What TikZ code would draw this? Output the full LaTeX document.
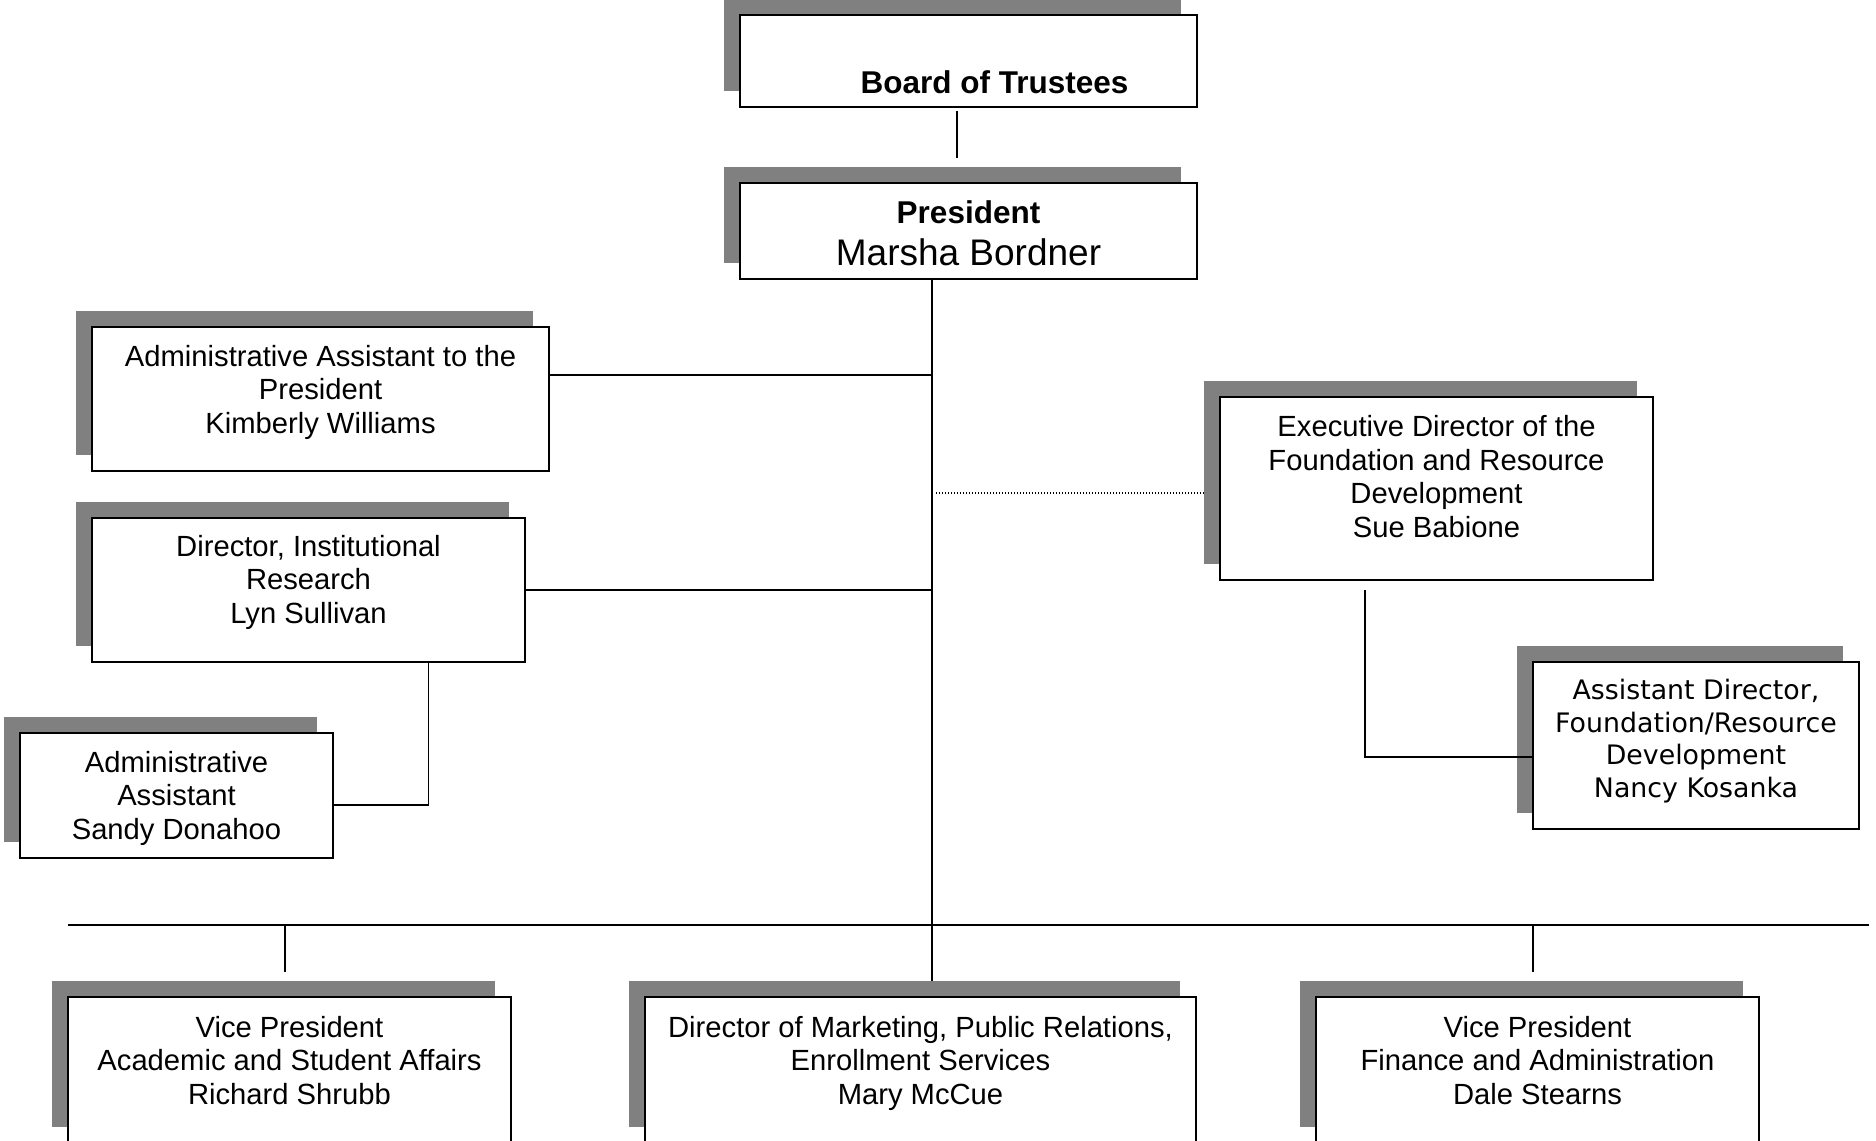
\documentclass[tikz,border=0pt]{standalone}
\usepackage{fontspec}
\setmainfont{Liberation Sans}
\newfontfamily\verafont{DejaVu Sans}
\usetikzlibrary{shadows}
\definecolor{shadegray}{RGB}{128,128,128}
\newcommand{\boxlines}[2][0pt]{\begin{tabular}{@{}c@{}}#2\\[#1]\end{tabular}}
\begin{document}
\begin{tikzpicture}[x=0.5pt,y=-0.5pt,font=\fontsize{14.6}{16.75}\selectfont,
  orgbox/.style={draw,fill=white,line width=0.9pt,inner sep=0pt,
    drop shadow={shadow xshift=-8pt,shadow yshift=8pt,opacity=1,fill=shadegray}},
  link/.style={line width=0.7pt}]
 \useasboundingbox (0,0) rectangle (1876,1141);
 % top
 \node[orgbox,minimum width=228.5pt,minimum height=46pt] (board) at (968.5,61)
   {\boxlines[-9pt]{\\\hspace*{26pt}\fontsize{15.75}{16.75}\selectfont\bfseries Board of Trustees}};
 \node[orgbox,minimum width=228.5pt,minimum height=48pt,font=\fontsize{18.5}{21}\selectfont] (pres) at (968.5,231)
   {\boxlines[-4.6pt]{{\fontsize{15.75}{21}\selectfont\bfseries President}\\Marsha Bordner}};
 % left staff
 \node[orgbox,minimum width=228.5pt,minimum height=72pt] (aap) at (320.5,399)
   {\boxlines[6pt]{Administrative Assistant to the\\President\\Kimberly Williams}};
 \node[orgbox,minimum width=216.5pt,minimum height=72pt] (dir) at (308.5,590)
   {\boxlines[7pt]{Director, Institutional\\Research\\Lyn Sullivan}};
 \node[orgbox,minimum width=156.5pt,minimum height=62.5pt] (aas) at (176.5,795.5)
   {\boxlines[-3.5pt]{Administrative\\Assistant\\Sandy Donahoo}};
 % right staff
 \node[orgbox,minimum width=216.5pt,minimum height=91.5pt] (exd) at (1436.5,488.5)
   {\boxlines[8pt]{Executive Director of the\\Foundation and Resource\\Development\\Sue Babione}};
 \node[orgbox,minimum width=163pt,minimum height=83.5pt,font=\verafont\fontsize{13.4}{16.2}\selectfont] (asd) at (1696,745.5)
   {\boxlines[3.4pt]{Assistant Director,\\Foundation/Resource\\Development\\Nancy Kosanka}};
 % bottom row
 \node[orgbox,minimum width=221.5pt,minimum height=73pt] (vpa) at (289.5,1070)
   {\boxlines[6pt]{Vice President\\Academic and Student Affairs\\Richard Shrubb}};
 \node[orgbox,minimum width=275.5pt,minimum height=73pt] (mkt) at (920.5,1070)
   {\boxlines[6pt]{Director of Marketing, Public Relations,\\Enrollment Services\\Mary McCue}};
 \node[orgbox,minimum width=221.5pt,minimum height=73pt] (vpf) at (1537.5,1070)
   {\boxlines[6pt]{Vice President\\Finance and Administration\\Dale Stearns}};
 % lines
 \coordinate (tk) at ([xshift=-18.25pt]pres.south);
 \coordinate (busl) at (68,925);
 \coordinate (busr) at (1869,925);
 \draw[link] ([xshift=-5.75pt,yshift=-1.5pt]board.south) -- ([xshift=-5.75pt,yshift=12pt]pres.north);
 \draw[link] (tk) -- ([yshift=7.5pt]tk |- mkt.north);
 \draw[link] (busl) -- (busr);
 \draw[link] ([yshift=12pt]aap.east) -- ([yshift=12pt]aap.east -| tk);
 \draw[link] (dir.east) -- (dir.east -| tk);
 \draw[link] ([yshift=-4.75pt]aas.east) -| ([xshift=60pt]dir.south);
 \draw[line width=0.6pt,dash pattern=on 0.6pt off 0.9pt] ([xshift=2pt,yshift=-2.25pt]tk |- exd.west) -- ([xshift=-8pt,yshift=-2.25pt]exd.west);
 \draw[link] ([xshift=-35.75pt,yshift=-4.5pt]exd.south) |- ([yshift=-5.75pt]asd.west);
 \draw[link] ([xshift=-2.25pt,yshift=12pt]vpa.north) -- ([xshift=-2.25pt]vpa.north |- busl);
 \draw[link] ([xshift=-2.25pt,yshift=12pt]vpf.north) -- ([xshift=-2.25pt]vpf.north |- busl);
\end{tikzpicture}
\end{document}
